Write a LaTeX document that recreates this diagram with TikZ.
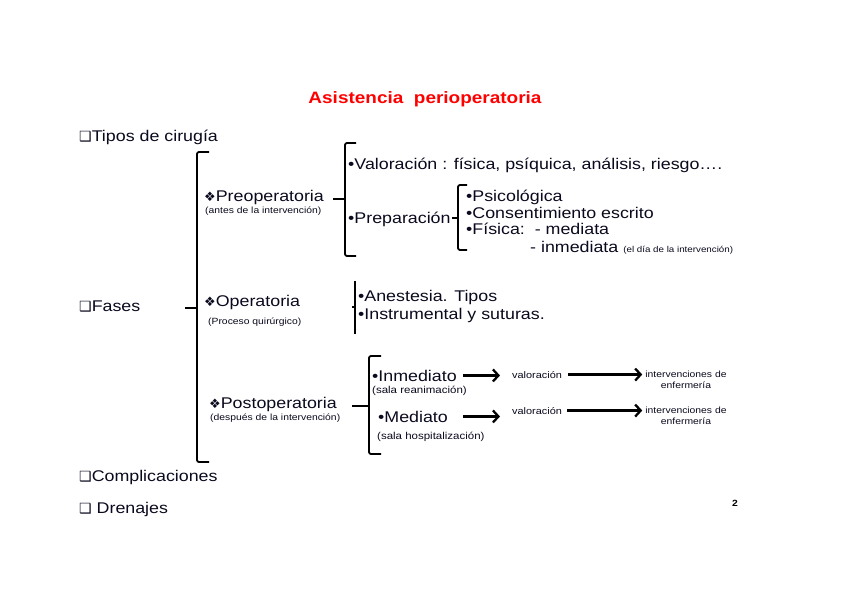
\documentclass[tikz,border=0pt]{standalone}
\usepackage{fontspec}
\setmainfont{Liberation Sans}[FakeStretch=1.15]
\newfontfamily\symf{DejaVu Sans}
\usetikzlibrary{arrows.meta}
\definecolor{titlered}{RGB}{255,0,0}
\definecolor{ink}{RGB}{10,10,30}
\newcommand{\chk}{{\symf\fontsize{14}{14}\selectfont ❑}}
\newcommand{\dia}{{\symf\fontsize{13}{13}\selectfont ❖}}
\begin{document}
\begin{tikzpicture}[x=1pt,y=-1pt,
  txt/.style={inner sep=0pt,anchor=base west,text=ink,font=\fontsize{15.5}{18}\selectfont},
  small/.style={inner sep=0pt,anchor=base west,text=ink,font=\fontsize{9}{10}\selectfont},
  sala/.style={inner sep=0pt,anchor=base west,text=ink,font=\fontsize{10}{11}\selectfont},
  val/.style={inner sep=0pt,anchor=base west,text=ink,font=\fontsize{9.5}{11}\selectfont},
  tiny/.style={inner sep=0pt,align=center,text=ink,font=\fontsize{9}{11}\selectfont},
  titlestyle/.style={inner sep=0pt,anchor=base,text=titlered,font=\bfseries\fontsize{16.5}{20}\selectfont},
  brk/.style={line width=1.8pt,rounded corners=2pt},
  arr/.style={line width=2.3pt,-{Straight Barb[length=5.5pt,width=12pt]}}]
\fill[white] (0,0) rectangle (848,599);
\useasboundingbox (0,0) rectangle (848,599);

% title
\node[titlestyle] (title) at (425,103) {Asistencia\ \ perioperatoria};

% left list
\node[txt] (tipos) at (79,141) {\chk Tipos de cirugía};
\node[txt] (fases) at (79,311) {\chk Fases};
\node[txt] (compl) at (79,481) {\chk Complicaciones};
\node[txt] (dren) at (79,513) {\chk\ Drenajes};
\node[inner sep=0pt,font=\bfseries\fontsize{9}{10}\selectfont] (pg) at (735,503) {2};

% main bracket
\draw[brk] (209,152) -- (197,152) -- (197,462) -- (209,462);
\draw[brk] (185,308) -- (197,308);

% Preoperatoria
\node[txt] (preop) at (204,201) {\dia Preoperatoria};
\node[small] (preops) at (205,213) {(antes de la intervención)};
\draw[brk] (356,143) -- (345,143) -- (345,256) -- (356,256);
\draw[brk] (333,199) -- (345,199);
\node[txt] (valor) at (348,169) {•Valoración : física, psíquica, análisis, riesgo….};
\node[txt] (prep) at (348,223) {•Preparación};
\draw[brk] (467,185) -- (458,185) -- (458,250) -- (467,250);
\draw[brk] (452,218) -- (458,218);
\node[txt] (psic) at (466,201) {•Psicológica};
\node[txt] (cons) at (466,218) {•Consentimiento escrito};
\node[txt] (fis) at (466,234) {•Física:\ \ - mediata};
\node[txt] (inmd) at (530,252) {- inmediata {\fontsize{8.5}{10}\selectfont (el día de la intervención)}};

% Operatoria
\node[txt] (op) at (204,306) {\dia Operatoria};
\node[small] (ops) at (208,324) {(Proceso quirúrgico)};
\draw[brk] (355,281) -- (355,334);
\draw[brk] (352,307) -- (355,307);
\node[txt] (anes) at (358,301) {•Anestesia. Tipos};
\node[txt] (instr) at (358,319) {•Instrumental y suturas.};

% Postoperatoria
\node[txt] (post) at (209,408) {\dia Postoperatoria};
\node[small] (posts) at (210,420) {(después de la intervención)};
\draw[brk] (381,356) -- (369,356) -- (369,454) -- (381,454);
\draw[brk] (352,406) -- (369,406);
\node[txt] (inm) at (372,381) {•Inmediato};
\node[sala] (inms) at (372,393) {(sala reanimación)};
\node[txt] (med) at (378,422) {•Mediato};
\node[sala] (meds) at (377,439) {(sala hospitalización)};

\node[val] (val1) at (512,378) {valoración};
\node[val] (val2) at (512,414) {valoración};
\node[tiny] (int1) at (686,380) {intervenciones de\\enfermería};
\node[tiny] (int2) at (686,416) {intervenciones de\\enfermería};

\coordinate (a1) at ([xshift=6pt]inm.east);
\coordinate (a2) at (a1 |- med.east);
\draw[arr,shorten >=12pt] (a1) -- (a1 -| val1.west);
\draw[arr,shorten <=6pt,shorten >=3pt] (val1.east) -- (val1.east -| int1.west);
\draw[arr,shorten >=12pt] (a2) -- (a2 -| val2.west);
\draw[arr,shorten <=5pt,shorten >=3pt] (val2.east) -- (val2.east -| int2.west);
\end{tikzpicture}
\end{document}
